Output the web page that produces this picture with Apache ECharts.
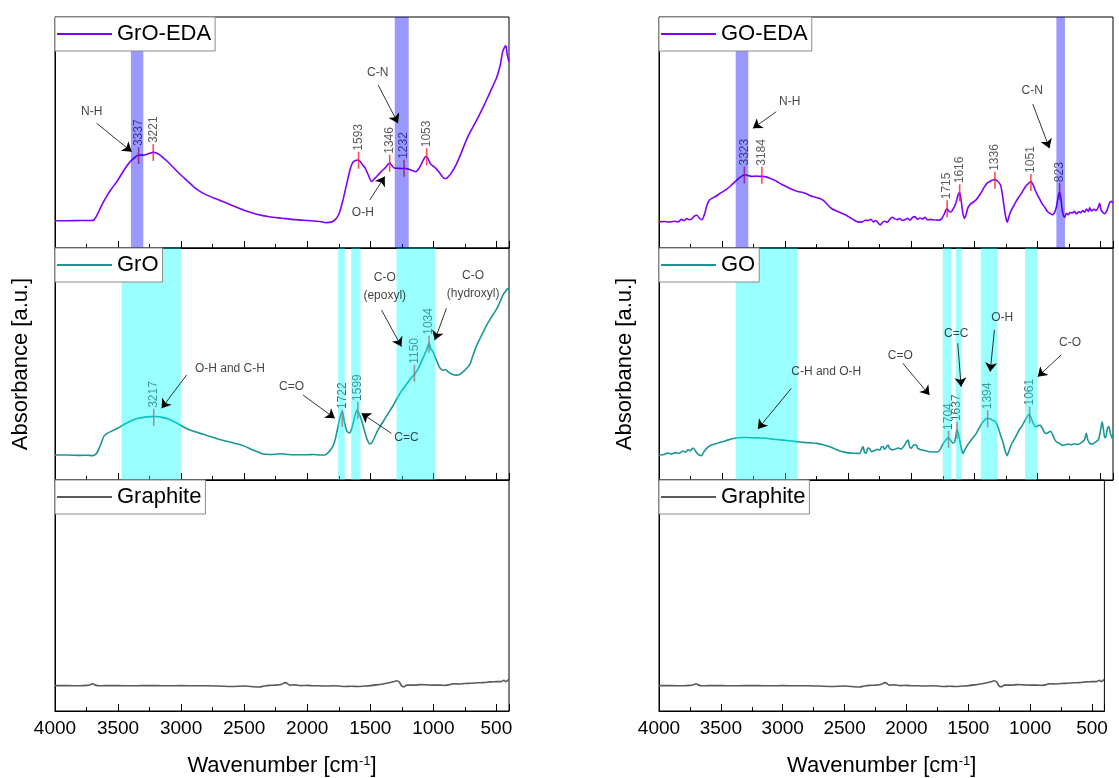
<!DOCTYPE html>
<html>
<head>
<meta charset="utf-8">
<title>FTIR spectra</title>
<script src="https://cdn.jsdelivr.net/npm/echarts@6/dist/echarts.min.js"></script>
<style>
  html, body { margin: 0; padding: 0; background: #fff; }
  #chart { width: 1119px; height: 778px; }
</style>
</head>
<body>
<div id="chart"></div>
<script>
// wavenumber range of every panel (axis is reversed, 4000 on the left)
const WN_MIN = 400
const WN_MAX = 4000

// spectra, [wavenumber cm-1, absorbance a.u.] (0..100 per panel)
const groEda = [[4000,11.8],[3900,11.8],[3800,11.9],[3720,11.9],[3690,12.2],[3660,15],[3630,18.5],[3600,21.5],[3560,25],[3500,29.5],[3450,34],[3400,37.6],[3360,39.5],[3337,40.2],[3300,40.2],[3260,40.8],[3221,41.4],[3190,41],[3150,39.5],[3100,37],[3050,34.2],[3000,31.5],[2950,29],[2900,26.5],[2850,24.5],[2800,23],[2700,20.8],[2600,18.5],[2500,16.3],[2400,14.6],[2300,13.5],[2200,12.9],[2100,12.3],[2000,11.9],[1900,11.5],[1850,11],[1810,11.2],[1780,12.2],[1750,14.5],[1720,20],[1690,27],[1660,34],[1640,37],[1620,37.8],[1600,38.1],[1580,37.5],[1560,35.8],[1540,34.6],[1515,31.5],[1490,28.8],[1470,29.8],[1440,31.5],[1410,33.3],[1380,34.8],[1360,36.2],[1346,36.8],[1330,35.8],[1310,34.6],[1280,34.5],[1250,34.4],[1232,34.5],[1200,34.2],[1170,33.6],[1140,33],[1110,34.8],[1080,38],[1060,39.6],[1045,39],[1020,36.2],[990,35],[960,33.2],[930,31],[910,30.1],[890,30.4],[860,32.3],[820,36],[780,41],[740,46.5],[700,51],[650,56],[600,61.5],[550,67.5],[500,73.5],[470,79],[450,85],[435,87],[425,87.5],[415,84],[400,80.5]]

const gro = [[4000,10.8],[3900,10.8],[3800,10.6],[3750,10.7],[3700,10.5],[3670,11.5],[3640,15],[3610,19],[3580,20.3],[3540,21.3],[3500,22.4],[3450,24],[3400,25.4],[3350,26.5],[3300,27],[3250,27.3],[3200,27.4],[3150,27],[3100,26.3],[3050,25],[3000,23.5],[2950,22],[2900,21],[2850,20.1],[2800,19.3],[2750,18.4],[2700,17.6],[2650,16.8],[2600,16.2],[2550,15.5],[2500,14.6],[2450,13.4],[2400,12.3],[2350,11.2],[2300,11],[2250,11.1],[2200,11.3],[2150,11],[2100,10.9],[2000,10.9],[1950,11],[1900,10.8],[1860,10.8],[1830,12],[1800,14.2],[1780,17],[1760,22],[1740,27],[1722,29.5],[1705,25],[1685,21],[1665,20.2],[1645,22.5],[1625,27],[1605,30.2],[1585,28],[1565,25],[1545,21],[1525,17.5],[1505,15.6],[1490,15.8],[1470,18],[1440,21.5],[1400,25],[1360,28.5],[1320,32],[1290,35],[1250,38.5],[1210,41.5],[1180,43.7],[1150,45.5],[1120,48],[1095,51],[1070,54],[1050,56.5],[1034,59],[1020,56.5],[1005,55.5],[990,53.5],[970,51],[950,48.5],[925,47.3],[905,47.6],[880,46.5],[850,45.6],[820,45.2],[790,45.5],[760,46.8],[730,48.5],[710,49.8],[690,53],[660,57.5],[630,61],[606,63.6],[580,66.5],[553,69],[530,71],[500,73.5],[470,77],[445,80],[425,81.5],[410,82.5],[400,82.5]]

const goEda = [[4000,11.3],[3960,11.5],[3920,11.2],[3880,11.6],[3850,11.3],[3820,12.4],[3800,11.8],[3780,12.8],[3760,12.2],[3740,12.6],[3720,13.8],[3700,14.2],[3680,13],[3660,12.2],[3640,14.5],[3620,18.5],[3600,20.8],[3570,21.8],[3545,22.5],[3520,23.5],[3490,24.5],[3460,25.6],[3430,27],[3400,28.5],[3370,30],[3340,31.2],[3320,31.7],[3290,31.3],[3260,31],[3230,31.1],[3200,31],[3180,31],[3150,30.8],[3120,30.2],[3090,29.5],[3060,28.6],[3030,27.6],[3000,26.8],[2970,26],[2940,25.2],[2900,24.5],[2860,24],[2830,23.5],[2800,22.6],[2760,22],[2720,21.3],[2690,20.3],[2660,18.5],[2630,17],[2600,16.2],[2550,15],[2515,14.2],[2480,13],[2450,12],[2420,11.2],[2390,11.3],[2360,12],[2340,11.9],[2320,12.4],[2300,11.3],[2280,11.9],[2260,10.6],[2245,10],[2230,11],[2210,11.6],[2190,11.2],[2170,12.4],[2150,13.3],[2130,12.6],[2110,12.3],[2090,12.8],[2070,11.9],[2050,12.2],[2030,12.9],[2010,12],[1990,13.2],[1970,13.6],[1950,12.4],[1930,13],[1910,12.6],[1890,13.3],[1870,12.1],[1850,12.4],[1830,12.2],[1800,12.1],[1780,12],[1760,12.6],[1740,14.5],[1725,16.5],[1715,17],[1700,15.8],[1685,15.6],[1665,17.2],[1645,19.6],[1628,23],[1616,24],[1605,21],[1592,15.5],[1578,12.8],[1565,14.5],[1550,17.5],[1530,19],[1510,19.8],[1490,20.6],[1470,22],[1450,23.6],[1430,25.5],[1410,27.3],[1390,28.4],[1370,29],[1350,29.5],[1336,29.6],[1320,29.2],[1305,28.4],[1290,27],[1275,22.5],[1260,16.5],[1245,12],[1238,11.2],[1228,13],[1215,15.4],[1200,17],[1185,18.5],[1165,20.5],[1145,22.2],[1120,24.2],[1095,26.5],[1070,28],[1051,28.8],[1035,27.5],[1020,25.5],[1000,23],[980,21],[960,19],[940,17.5],[920,15.8],[900,15],[880,14.4],[865,15.2],[850,17.6],[835,22],[825,24.2],[815,22.5],[805,17.5],[795,14.3],[783,13.3],[770,15],[755,14.4],[740,15.3],[720,15.2],[705,15.9],[690,14.8],[670,15.7],[655,15.3],[640,16.2],[625,15.5],[610,16.9],[595,15.8],[585,17.4],[570,16],[550,16.8],[535,16.2],[520,17.3],[506,19.3],[495,16.5],[480,15.4],[466,14.8],[450,16],[440,17.5],[427,19.5],[415,20.2],[400,19.5]]

const go = [[4000,10.8],[3960,11],[3930,11.6],[3900,11.2],[3870,11.8],[3840,11.5],[3810,12.5],[3790,12],[3770,13],[3750,12.6],[3730,13.8],[3710,12.5],[3690,11],[3665,10.5],[3640,12.5],[3610,14.3],[3585,15.1],[3550,15.6],[3520,16.2],[3490,16.6],[3450,17.3],[3400,18],[3350,18.3],[3300,18.3],[3250,18.2],[3200,18.1],[3150,18],[3100,17.6],[3050,17.4],[3000,17.1],[2950,16.8],[2900,16.5],[2850,16.2],[2800,16],[2750,15.8],[2700,15.2],[2650,14.4],[2600,13.3],[2560,12.4],[2520,11.9],[2480,11.6],[2440,11.5],[2410,11.4],[2395,13],[2383,14.4],[2370,12],[2356,11.5],[2345,13.8],[2330,13.6],[2315,12.2],[2290,12.7],[2270,13.2],[2250,12.8],[2235,14.3],[2224,14.4],[2210,13.2],[2195,14.4],[2184,15.1],[2170,13.5],[2145,13],[2120,13.5],[2100,13.8],[2080,13.3],[2060,14.5],[2040,16.2],[2026,17.2],[2012,14.2],[2000,13.7],[1985,14.8],[1970,15.2],[1960,15.1],[1945,13.5],[1920,13],[1900,12.8],[1880,12.5],[1854,12.2],[1820,12.1],[1788,12.2],[1770,13.2],[1755,14.8],[1740,16.2],[1720,17.6],[1704,18.2],[1690,17.2],[1670,16],[1655,16.5],[1645,19.5],[1637,21.6],[1626,20],[1615,17],[1600,13],[1590,11.4],[1580,12.4],[1560,14.5],[1535,16.5],[1510,18.2],[1485,20],[1460,22.5],[1435,24.8],[1410,26.2],[1394,26.6],[1375,26.4],[1355,25.8],[1330,25],[1310,22.5],[1290,19],[1270,15.8],[1255,12.5],[1240,10.5],[1225,12.5],[1205,15.5],[1190,16.8],[1170,18.8],[1150,21],[1125,23],[1100,25.5],[1080,27.3],[1065,28.3],[1050,26.8],[1035,24.8],[1020,23.3],[1005,23],[990,23.6],[975,23.5],[960,22.3],[945,20.6],[928,20],[910,20.6],[895,21],[880,19.6],[865,17.8],[850,16.5],[830,16],[810,15.2],[790,15],[770,15.3],[750,15.5],[730,15.2],[717,15.4],[700,15.6],[680,15.3],[660,15.8],[640,16.5],[625,17.5],[612,20.1],[600,17.3],[585,15.8],[565,15.5],[550,16],[533,16.5],[515,17.5],[500,21],[486,25.1],[475,21.5],[465,18.2],[455,19],[445,22],[433,23],[420,20],[407,18],[400,19.5]]

const graphite = [[4000,11],[3900,11],[3800,10.9],[3750,11.1],[3720,11.4],[3700,11.8],[3680,11.2],[3650,10.9],[3600,11],[3500,11],[3400,10.9],[3300,11],[3200,11],[3100,10.9],[3000,11],[2900,10.9],[2800,10.9],[2700,10.8],[2600,10.6],[2500,10.8],[2420,10.5],[2380,10.4],[2340,10.8],[2300,11.1],[2250,11.2],[2200,11.6],[2175,12.3],[2160,12],[2140,11.2],[2100,11.3],[2050,11],[2000,11.1],[1950,10.9],[1900,10.9],[1850,10.8],[1800,10.9],[1750,10.8],[1700,10.6],[1650,10.7],[1600,10.6],[1550,10.8],[1500,11],[1450,11.3],[1400,11.7],[1350,12.2],[1310,12.8],[1290,13.1],[1270,12.5],[1250,10.8],[1230,10.5],[1210,11.2],[1150,11.2],[1100,11.4],[1050,11.3],[1000,11.2],[950,11.2],[900,11.1],[860,11.6],[840,11.8],[800,11.7],[750,11.9],[700,12],[650,12.2],[600,12.3],[550,12.6],[500,12.7],[460,12.8],[440,13.3],[425,12.7],[410,13.3],[400,13.5]]

// labelled peaks [wavenumber, absorbance at the marker]
const groEdaPeaks = [[3337,40],[3221,41.3],[1593,38],[1346,36.7],[1232,34.5],[1053,39.5]]
const groPeaks = [[3217,27],[1722,26.5],[1599,30],[1150,46],[1034,58.5]]
const goEdaPeaks = [[3323,31.6],[3184,31.5],[1715,17],[1616,23.9],[1336,29.3],[1051,28.4],[823,24.4]]
const goPeaks = [[1704,17.5],[1637,21.3],[1394,26.4],[1061,28]]

// highlighted bands [from, to] in cm-1
const groEdaBands = [[3398,3300],[1306,1195]]
const groBands = [[3472,3002],[1755,1702],[1651,1578],[1292,983]]
const goEdaBands = [[3392,3292],[849,781]]
const goBands = [[3392,2900],[1750,1681],[1647,1602],[1448,1316],[1097,1002]]

// assignment notes: text position, arrow start, arrow end (data coords)
const groEdaNotes = [
  { text: 'N-H', at: [3709, 59], from: [3670, 54], to: [3392, 41.7] },
  { text: 'C-N', at: [1441, 75.9], from: [1438, 70.6], to: [1280, 54] },
  { text: 'O-H', at: [1559, 15.2], from: [1504, 20.8], to: [1385, 30.9] }
]
const groNotes = [
  { text: 'O-H and C-H', at: [2613, 48.1], from: [2956, 45.3], to: [3155, 30.9] },
  { text: 'C=O', at: [2124, 40.2], from: [2033, 36.6], to: [1781, 26.6] },
  { text: 'C=C', at: [1213, 18.2], from: [1332, 20.1], to: [1570, 28.8] },
  { text: 'C-O\n(epoxyl)', at: [1385, 83.2], from: [1411, 73.3], to: [1253, 57.5] },
  { text: 'C-O\n(hydroxyl)', at: [685, 84.1], from: [896, 74], to: [989, 60.3] }
]
const goEdaNotes = [
  { text: 'N-H', at: [2964, 63.3], from: [3070, 59], to: [3255, 51.8] },
  { text: 'C-N', at: [1041, 68.1], from: [1036, 62.3], to: [904, 43.2] }
]
const goNotes = [
  { text: 'C-H and O-H', at: [2674, 46.7], from: [2951, 39.5], to: [3216, 22] },
  { text: 'C=O', at: [2087, 53.6], from: [2067, 50.3], to: [1855, 36.6] },
  { text: 'C=C', at: [1643, 63.2], from: [1631, 58.9], to: [1604, 40.2] },
  { text: 'O-H', at: [1279, 70], from: [1340, 64.7], to: [1374, 46.7] },
  { text: 'C-O', at: [740, 59.4], from: [811, 53.9], to: [997, 44.5] }
]

const PURPLE = '#8000ff'
const TEAL = '#1a9696'
const GRAY = '#5a5a5a'
const BLUE_BAND = 'rgba(0, 0, 255, 0.4)'
const CYAN_BAND = 'rgba(0, 255, 255, 0.4)'
const FONT = '"Liberation Sans", Arial, Helvetica, sans-serif'

const panels = [
  { name: 'GrO-EDA', data: groEda, color: PURPLE, peaks: groEdaPeaks, bands: groEdaBands, band: BLUE_BAND, notes: groEdaNotes },
  { name: 'GrO', data: gro, color: TEAL, peaks: groPeaks, bands: groBands, band: CYAN_BAND, notes: groNotes },
  { name: 'Graphite', data: graphite, color: GRAY, peaks: [], bands: [], band: CYAN_BAND, notes: [] },
  { name: 'GO-EDA', data: goEda, color: PURPLE, peaks: goEdaPeaks, bands: goEdaBands, band: BLUE_BAND, notes: goEdaNotes },
  { name: 'GO', data: go, color: TEAL, peaks: goPeaks, bands: goBands, band: CYAN_BAND, notes: goNotes },
  { name: 'Graphite', data: graphite, color: GRAY, peaks: [], bands: [], band: CYAN_BAND, notes: [] }
]

const colLeft = [55, 659]
const rowTop = [17, 248, 480]
const rowHeight = [231, 232, 231]
const PLOT_W = 454

const grid = []
const xAxis = []
const yAxis = []
const legend = []
const series = []

panels.forEach((p, i) => {
  const col = Math.floor(i / 3)
  const row = i % 3
  const isBottom = row === 2

  grid.push({
    left: colLeft[col], top: rowTop[row], width: PLOT_W, height: rowHeight[row],
    show: true, borderColor: '#000', borderWidth: 1, backgroundColor: 'transparent'
  })

  xAxis.push({
    type: 'value', gridIndex: i, min: WN_MIN, max: WN_MAX, inverse: true, splitNumber: 8,
    axisLine: { show: true, onZero: false, lineStyle: { color: '#000', width: 1 } },
    axisTick: { show: true, inside: true, length: 7, lineStyle: { color: '#000', width: 1 } },
    minorTick: { show: true, splitNumber: 2, length: 4, lineStyle: { color: '#000', width: 1 } },
    splitLine: { show: false },
    axisLabel: {
      show: isBottom, fontSize: 19, color: '#000', margin: 8, fontFamily: FONT,
      formatter: (v) => (v % 500 === 0 ? String(v) : '')
    },
    name: isBottom ? 'Wavenumber [cm{sup|-1}]' : '',
    nameLocation: 'middle',
    nameGap: 44,
    nameTextStyle: {
      fontSize: 22, color: '#000', fontFamily: FONT,
      rich: { sup: { fontSize: 13, verticalAlign: 'top', color: '#000', fontFamily: FONT } }
    }
  })

  yAxis.push({
    type: 'value', gridIndex: i, min: 0, max: 100,
    axisLine: { show: true, lineStyle: { color: '#000' } },
    axisTick: { show: false },
    axisLabel: { show: false },
    splitLine: { show: false },
    name: row === 1 ? 'Absorbance [a.u.]' : '',
    nameLocation: 'middle',
    nameGap: 23,
    nameTextStyle: { fontSize: 22, color: '#000', fontFamily: FONT }
  })

  // legend sample is a plain line (thin rect), no symbol
  legend.push({
    data: [{ name: p.name, icon: 'rect', itemStyle: { color: p.color } }],
    left: colLeft[col], top: rowTop[row],
    itemWidth: 55, itemHeight: 2, itemGap: 0,
    backgroundColor: '#fff', borderColor: '#8a8a8a', borderWidth: 1, borderRadius: 0,
    padding: [6, 4, 6, 2],
    selectedMode: false,
    textStyle: { fontSize: 22, color: '#000', fontFamily: FONT },
    z: 20
  })

  // spectrum + highlighted bands on top of it
  series.push({
    type: 'line', name: p.name, data: p.data, xAxisIndex: i, yAxisIndex: i,
    symbol: 'none', smooth: 0.25, z: 2,
    lineStyle: { color: p.color, width: 1.6 },
    itemStyle: { color: p.color },
    markArea: {
      silent: true, z: 10,
      itemStyle: { color: p.band },
      data: p.bands.map((b) => [{ xAxis: b[0] }, { xAxis: b[1] }])
    }
  })

  // peak markers with rotated wavenumber labels
  series.push({
    type: 'scatter', xAxisIndex: i, yAxisIndex: i, z: 3, silent: true,
    data: p.peaks,
    symbol: 'rect', symbolSize: [1.6, 17],
    itemStyle: { color: '#ff2020' },
    label: {
      show: true, position: 'top', distance: 1, rotate: 90,
      align: 'left', verticalAlign: 'middle',
      fontSize: 12, color: '#333', fontFamily: FONT,
      formatter: (d) => String(d.value[0])
    }
  })

  // band assignments with arrows
  series.push({
    type: 'scatter', xAxisIndex: i, yAxisIndex: i, z: 11, silent: true,
    data: p.notes.map((n) => ({ name: n.text, value: n.at })),
    symbolSize: 0,
    itemStyle: { color: 'transparent' },
    label: {
      show: true, position: 'inside', formatter: '{b}',
      fontSize: 12, lineHeight: 18, color: '#111', fontFamily: FONT, align: 'center'
    },
    markLine: {
      silent: true, z: 11,
      symbol: ['none', 'arrow'], symbolSize: 9,
      label: { show: false },
      lineStyle: { color: '#000', width: 0.8, type: 'solid' },
      data: p.notes.map((n) => [{ coord: n.from }, { coord: n.to }])
    }
  })
})

const chart = echarts.init(document.getElementById('chart'), null, { renderer: 'canvas' })
chart.setOption({
  backgroundColor: '#fff',
  animation: false,
  textStyle: { fontFamily: FONT },
  grid, xAxis, yAxis, legend, series
})
</script>
</body>
</html>
